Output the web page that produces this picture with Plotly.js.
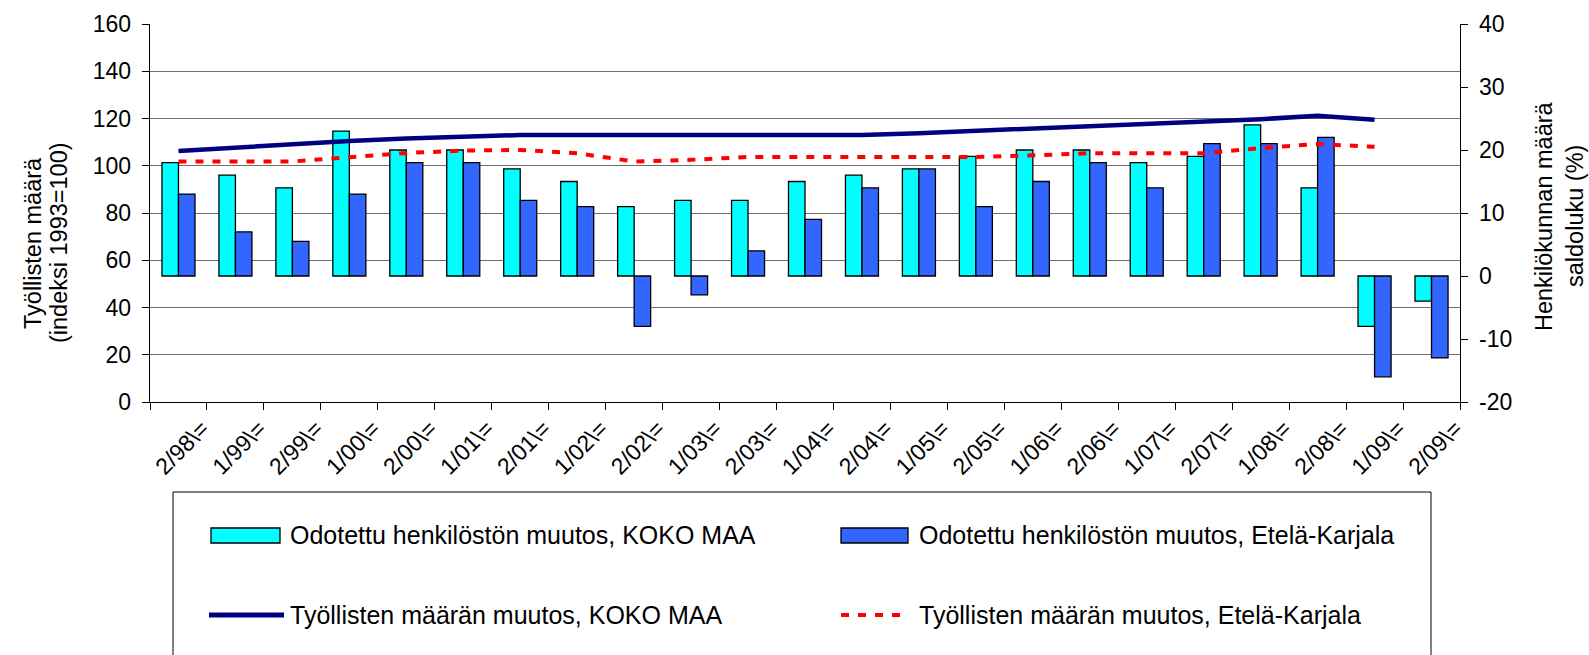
<!DOCTYPE html>
<html>
<head>
<meta charset="utf-8">
<script src="https://cdn.plot.ly/plotly-3.0.1.min.js"></script>
<style>
  html, body { margin: 0; padding: 0; background: #ffffff; }
  #chart { width: 1589px; height: 655px; }
</style>
</head>
<body>
<div id="chart"></div>
<script>
// ---- Data ----
const categories = ['2/98\\=', '1/99\\=', '2/99\\=', '1/00\\=', '2/00\\=', '1/01\\=', '2/01\\=', '1/02\\=',
  '2/02\\=', '1/03\\=', '2/03\\=', '1/04\\=', '2/04\\=', '1/05\\=', '2/05\\=', '1/06\\=', '2/06\\=',
  '1/07\\=', '2/07\\=', '1/08\\=', '2/08\\=', '1/09\\=', '2/09\\='];

// Odotettu henkilöstön muutos (saldoluku %, right axis)
const saldoKokoMaa = [18, 16, 14, 23, 20, 20, 17, 15, 11, 12, 12, 15, 16, 17, 19, 20, 20, 18, 19, 24, 14, -8, -4];
const saldoEtelaKarjala = [13, 7, 5.5, 13, 18, 18, 12, 11, -8, -3, 4, 9, 14, 17, 11, 15, 18, 14, 21, 21, 22, -16, -13];

// Työllisten määrä (indeksi 1993=100, left axis) – ends at 1/09
const tyollisetKokoMaa = [106.2, 107.7, 109.1, 110.5, 111.5, 112.3, 113, 113, 113, 113, 113, 113, 113,
  113.8, 114.8, 115.8, 117, 117.6, 119, 119.7, 121.2, 119.5];
const tyollisetEtelaKarjala = [101.8, 101.8, 101.8, 103.6, 105.4, 106.4, 106.7, 105.3, 101.8, 102.5, 103.7,
  103.7, 103.7, 103.7, 103.7, 104.4, 105.3, 105.3, 105.3, 107.5, 109.2, 108];

const leftTicks = [0, 20, 40, 60, 80, 100, 120, 140, 160];
const rightTicks = [-20, -10, 0, 10, 20, 30, 40];

const seriesNames = [
  'Odotettu henkilöstön muutos, KOKO MAA',
  'Odotettu henkilöstön muutos, Etelä-Karjala',
  'Työllisten määrän muutos, KOKO MAA',
  'Työllisten määrän muutos, Etelä-Karjala'
];
const leftTitle = ['Työllisten määrä', '(indeksi 1993=100)'];
const rightTitle = ['Henkilökunnan määrä', 'saldoluku (%)'];

// ---- Layout helpers (pixel -> paper) ----
const M = { l: 150, r: 129, t: 24, b: 253 };
const PW = 1589 - M.l - M.r, PH = 655 - M.t - M.b;
const px = x => (x - M.l) / PW;
const py = y => (655 - M.b - y) / PH;
const FONT = 'Liberation Sans, Arial, sans-serif';
const NB = '\u00a0';

const colors = ['#00FFFF', '#3366FF', '#000080', '#FF0000'];
const redDash = '8px,9px';

const traces = [
  { type: 'bar', name: seriesNames[0], x: categories, y: saldoKokoMaa, yaxis: 'y',
    marker: { color: colors[0], line: { color: '#000000', width: 1.3 } }, showlegend: false },
  { type: 'bar', name: seriesNames[1], x: categories, y: saldoEtelaKarjala, yaxis: 'y',
    marker: { color: colors[1], line: { color: '#000000', width: 1.3 } }, showlegend: false },
  { type: 'scatter', mode: 'lines', name: seriesNames[2],
    x: categories.slice(0, tyollisetKokoMaa.length), y: tyollisetKokoMaa, yaxis: 'y2',
    line: { color: colors[2], width: 4.5 }, showlegend: false },
  { type: 'scatter', mode: 'lines', name: seriesNames[3],
    x: categories.slice(0, tyollisetEtelaKarjala.length), y: tyollisetEtelaKarjala, yaxis: 'y2',
    line: { color: colors[3], width: 4, dash: redDash }, showlegend: false }
];

// Custom legend (box, swatches, labels)
const shapes = [
  { type: 'rect', xref: 'paper', yref: 'paper', x0: px(173), x1: px(1431), y0: py(680), y1: py(492),
    line: { color: '#000000', width: 1 }, fillcolor: '#ffffff', layer: 'below' },
  { type: 'rect', xref: 'paper', yref: 'paper', x0: px(211), x1: px(280), y0: py(543), y1: py(528),
    line: { color: '#000000', width: 1.3 }, fillcolor: colors[0] },
  { type: 'rect', xref: 'paper', yref: 'paper', x0: px(841), x1: px(908), y0: py(543), y1: py(528),
    line: { color: '#000000', width: 1.3 }, fillcolor: colors[1] },
  { type: 'line', xref: 'paper', yref: 'paper', x0: px(209), x1: px(284), y0: py(615), y1: py(615),
    line: { color: colors[2], width: 5 } },
  { type: 'line', xref: 'paper', yref: 'paper', x0: px(841), x1: px(908), y0: py(615), y1: py(615),
    line: { color: colors[3], width: 4, dash: redDash } }
];

const legendFont = { family: FONT, size: 25, color: '#000000' };
const titleFont = { family: FONT, size: 23.5, color: '#000000' };
const annotations = [
  { xref: 'paper', yref: 'paper', x: px(288), y: py(535), xanchor: 'left', yanchor: 'middle', showarrow: false, text: seriesNames[0], font: legendFont },
  { xref: 'paper', yref: 'paper', x: px(917), y: py(535), xanchor: 'left', yanchor: 'middle', showarrow: false, text: seriesNames[1], font: legendFont },
  { xref: 'paper', yref: 'paper', x: px(288), y: py(615), xanchor: 'left', yanchor: 'middle', showarrow: false, text: seriesNames[2], font: legendFont },
  { xref: 'paper', yref: 'paper', x: px(917), y: py(615), xanchor: 'left', yanchor: 'middle', showarrow: false, text: seriesNames[3], font: legendFont },
  { xref: 'paper', yref: 'paper', x: px(33), y: py(243), xanchor: 'center', yanchor: 'middle', textangle: -90, showarrow: false, text: leftTitle[0], font: titleFont },
  { xref: 'paper', yref: 'paper', x: px(59), y: py(243), xanchor: 'center', yanchor: 'middle', textangle: -90, showarrow: false, text: leftTitle[1], font: titleFont },
  { xref: 'paper', yref: 'paper', x: px(1544), y: py(216), xanchor: 'center', yanchor: 'middle', textangle: -90, showarrow: false, text: rightTitle[0], font: titleFont },
  { xref: 'paper', yref: 'paper', x: px(1575), y: py(216), xanchor: 'center', yanchor: 'middle', textangle: -90, showarrow: false, text: rightTitle[1], font: titleFont }
];

const tickFont = { family: FONT, size: 23, color: '#000000' };

const layout = {
  width: 1589, height: 655,
  margin: M,
  paper_bgcolor: '#ffffff', plot_bgcolor: '#ffffff',
  font: { family: FONT, color: '#000000' },
  showlegend: false,
  barmode: 'group', bargap: 0.42, bargroupgap: 0,
  xaxis: {
    type: 'category', tickson: 'boundaries', ticks: 'outside', ticklen: 7, tickcolor: '#000000',
    showline: true, linecolor: '#000000', linewidth: 1, showgrid: false, zeroline: false,
    tickangle: -45, tickfont: tickFont,
    ticklabelshift: 24, ticklabelstandoff: 3
  },
  yaxis: {
    range: [-20, 40], tickmode: 'array', tickvals: rightTicks,
    ticktext: rightTicks.map(v => NB + String(v)),
    side: 'right', showgrid: false, zeroline: false,
    showline: true, linecolor: '#000000', linewidth: 1, ticks: 'outside', ticklen: 7, tickcolor: '#000000',
    tickfont: tickFont
  },
  yaxis2: {
    range: [0, 160], tickmode: 'array', tickvals: leftTicks,
    ticktext: leftTicks.map(v => String(v) + NB),
    overlaying: 'y', side: 'left',
    showgrid: true, gridcolor: '#6e6e6e', gridwidth: 1, zeroline: false,
    showline: true, linecolor: '#000000', linewidth: 1, ticks: 'outside', ticklen: 7, tickcolor: '#000000',
    tickfont: tickFont
  },
  yaxis3: {
    range: [-20, 40], tickmode: 'array', tickvals: rightTicks, overlaying: 'y', side: 'right',
    showgrid: false, zeroline: false, showline: false, showticklabels: false,
    ticks: 'inside', ticklen: 8, tickcolor: '#000000'
  },
  shapes: shapes,
  annotations: annotations
};

Plotly.newPlot('chart', traces, layout, { displayModeBar: false, staticPlot: true });
</script>
</body>
</html>
